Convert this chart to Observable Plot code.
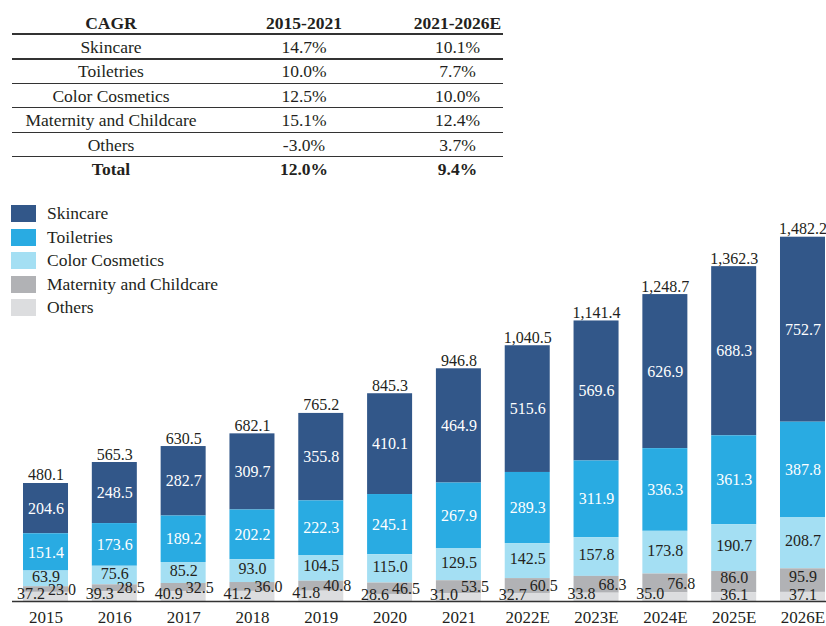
<!DOCTYPE html>
<html>
<head>
<meta charset="utf-8">
<script src="https://cdn.jsdelivr.net/npm/d3@7"></script>
<script src="https://cdn.jsdelivr.net/npm/@observablehq/plot@0.6"></script>
<style>
  html, body { margin: 0; padding: 0; background: #fff; }
  body { width: 826px; height: 626px; position: relative; overflow: hidden;
         font-family: "Liberation Serif", "Times New Roman", serif; color: #231f20; }
  #table { position: absolute; left: 0; top: 0; width: 826px; height: 190px; }
  .cell { position: absolute; font-size: 17.5px; text-align: center; white-space: nowrap; line-height: 24px;
          font-family: "Liberation Serif", serif; }
  .hline { position: absolute; left: 12px; width: 491px; background: #333; }
  #legend { position: absolute; left: 0; top: 0; }
  .lg-sw { position: absolute; left: 11px; width: 25px; height: 17px; }
  .lg-tx { position: absolute; left: 47px; font-size: 17.5px; line-height: 17px; white-space: nowrap;
           font-family: "Liberation Serif", serif; }
  #chart { position: absolute; left: 0; top: 190px; }
</style>
</head>
<body>
<div id="table"></div>
<div id="chart"></div>
<div id="legend"></div>
<script>
// ---------------- data ----------------
const years = ["2015","2016","2017","2018","2019","2020","2021","2022E","2023E","2024E","2025E","2026E"];
const categories = ["Skincare","Toiletries","Color Cosmetics","Maternity and Childcare","Others"];
const skincare       = [204.6,248.5,282.7,309.7,355.8,410.1,464.9,515.6,569.6,626.9,688.3,752.7];
const toiletries     = [151.4,173.6,189.2,202.2,222.3,245.1,267.9,289.3,311.9,336.3,361.3,387.8];
const colorCosmetics = [63.9,75.6,85.2,93.0,104.5,115.0,129.5,142.5,157.8,173.8,190.7,208.7];
const maternity      = [23.0,28.5,32.5,36.0,40.8,46.5,53.5,60.5,68.3,76.8,86.0,95.9];
const others         = [37.2,39.3,40.9,41.2,41.8,28.6,31.0,32.7,33.8,35.0,36.1,37.1];
const totals         = [480.1,565.3,630.5,682.1,765.2,845.3,946.8,1040.5,1141.4,1248.7,1362.3,1482.2];

const cagrHeader = ["CAGR","2015-2021","2021-2026E"];
const cagrRows   = ["Skincare","Toiletries","Color Cosmetics","Maternity and Childcare","Others","Total"];
const cagr1521   = ["14.7%","10.0%","12.5%","15.1%","-3.0%","12.0%"];
const cagr2126   = ["10.1%","7.7%","10.0%","12.4%","3.7%","9.4%"];

// ---------------- styles ----------------
const colors = ["#325789","#29abe2","#a4dff3","#b1b2b5","#dcdddf"];
const boxColor = "#a9aaad";
const ink = "#231f20";
const stackOrder = ["Others","Maternity and Childcare","Color Cosmetics","Toiletries","Skincare"];

// ---------------- table ----------------
const tbl = document.getElementById("table");
const colBoxes = [[12,198],[210,188],[412,91]];
function cell(text, col, top, bold) {
  const d = document.createElement("div");
  d.className = "cell";
  d.style.left = colBoxes[col][0] + "px";
  d.style.width = colBoxes[col][1] + "px";
  d.style.top = top + "px";
  d.style.fontWeight = bold ? "bold" : "normal";
  d.textContent = text;
  tbl.appendChild(d);
}
function hline(top, h) {
  const d = document.createElement("div");
  d.className = "hline";
  d.style.top = top + "px";
  d.style.height = h + "px";
  tbl.appendChild(d);
}
cagrHeader.forEach((t, j) => cell(t, j, 11, true));
hline(33, 2);
const rowH = 24.4;
cagrRows.forEach((r, i) => {
  const top = 35 + i * rowH;
  const bold = r === "Total";
  cell(r, 0, top, bold);
  cell(cagr1521[i], 1, top, bold);
  cell(cagr2126[i], 2, top, bold);
  if (i < cagrRows.length - 1) hline(top + rowH - 1, 1.2);
});

// ---------------- legend ----------------
const lg = document.getElementById("legend");
categories.forEach((c, i) => {
  const top = 205 + i * 23.5;
  const sw = document.createElement("div");
  sw.className = "lg-sw"; sw.style.top = top + "px"; sw.style.background = colors[i];
  lg.appendChild(sw);
  const tx = document.createElement("div");
  tx.className = "lg-tx"; tx.style.top = top + "px"; tx.textContent = c;
  lg.appendChild(tx);
});

// ---------------- chart ----------------
const series = [skincare, toiletries, colorCosmetics, maternity, others];
const rows = [];
years.forEach((y, i) => {
  categories.forEach((c, k) => {
    rows.push({year: y, cat: c, value: series[k][i], crowded: maternity[i] < 80});
  });
});
const totalRows = years.map((y, i) => ({year: y, total: totals[i]}));
const f1 = d3.format(".1f");
const fT = d3.format(",.1f");

function labels(test, opts) {
  return Plot.text(rows, Plot.stackY({
    x: "year", y: "value", z: "cat", order: stackOrder,
    text: d => test(d) ? f1(d.value) : null,
    fontSize: 16, fontFamily: "Liberation Serif",
    ...opts
  }));
}

const chart = Plot.plot({
  width: 826, height: 436,
  marginTop: 46.7, marginBottom: 25, marginLeft: 12, marginRight: 0,
  style: {fontFamily: "Liberation Serif", fontSize: "17px", color: ink, background: "transparent"},
  x: {domain: years, paddingInner: 0.346, paddingOuter: 0.0872, align: 0.917, round: false,
      label: null, tickSize: 0, tickPadding: 9},
  y: {domain: [0, d3.max(totals)], axis: null},
  color: {domain: categories, range: colors},
  marks: [
    Plot.barY(rows, {x: "year", y: "value", fill: "cat", order: stackOrder}),
    labels(d => d.cat === "Skincare" || d.cat === "Toiletries", {fill: "white"}),
    labels(d => d.cat === "Color Cosmetics", {fill: ink, dy: -2}),
    labels(d => !d.crowded && d.cat === "Maternity and Childcare", {fill: ink, dy: -4}),
    labels(d => !d.crowded && d.cat === "Others", {fill: ink, dy: -2}),
    labels(d => d.crowded && d.cat === "Others", {fill: ink, textAnchor: "end", dx: -1, dy: -3}),
    labels(d => d.crowded && d.cat === "Maternity and Childcare", {fill: ink, textAnchor: "start", dx: 2, dy: 0, ariaLabel: "mat-boxed"}),
    Plot.text(totalRows, {x: "year", y: "total", text: d => fT(d.total), lineAnchor: "bottom", dy: -3,
      fill: ink, fontSize: 16, fontFamily: "Liberation Serif"}),
    Plot.ruleY([0], {stroke: "#333", strokeWidth: 1.5})
  ]
});
document.getElementById("chart").appendChild(chart);

// grey boxes behind the crowded Maternity labels
d3.select(chart).selectAll('g[aria-label="mat-boxed"] text').each(function() {
  const b = this.getBBox();
  const r = document.createElementNS("http://www.w3.org/2000/svg", "rect");
  r.setAttribute("x", b.x - 3);
  r.setAttribute("y", b.y + 2);
  r.setAttribute("width", b.width + 6);
  r.setAttribute("height", b.height - 3);
  r.setAttribute("fill", boxColor);
  const t = this.getAttribute("transform");
  if (t) r.setAttribute("transform", t);
  this.parentNode.insertBefore(r, this);
});
</script>
</body>
</html>
